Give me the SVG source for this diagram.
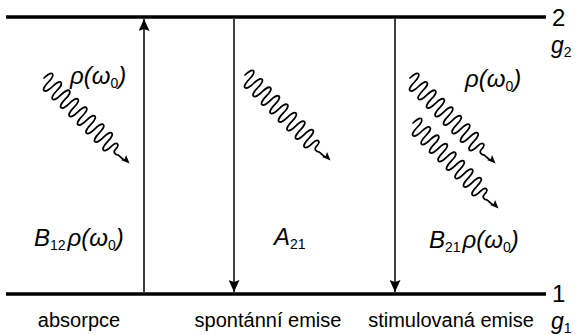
<svg xmlns="http://www.w3.org/2000/svg" width="579" height="335" viewBox="0 0 579 335">
<style>
text{font-family:"Liberation Sans",Arial,sans-serif;fill:#000}
.m{font-size:24px;font-style:italic}
.sub{font-size:14px;font-style:normal}
.lab{font-size:20px;text-anchor:middle}
.num{font-size:24px}
.g{font-size:23px}
.lvl{stroke:#000;stroke-width:3.6;fill:none}
.tr{stroke:#000;stroke-width:1.5;fill:none}
.wv{stroke:#000;stroke-width:1.7;fill:none;stroke-linecap:round}
</style>
<defs>
<marker id="ah" viewBox="0 0 12 11" refX="12" refY="5.5" markerWidth="12" markerHeight="11" markerUnits="userSpaceOnUse" orient="auto">
<path d="M0,0 L12,5.5 L0,11 L2,5.5 Z" fill="#000"/>
</marker>
<g id="wave">
<path class="wv" d="M0,0 c0,-12 6,-12 6,0 c0,12 6,12 6,0 c0,-12 6,-12 6,0 c0,12 6,12 6,0 c0,-12 6,-12 6,0 c0,12 6,12 6,0 c0,-12 6,-12 6,0 c0,12 6,12 6,0 c0,-12 6,-12 6,0 c0,12 6,12 6,0 c0,-12 6,-12 6,0 c0,12 6,12 6,0 c0,-12 6,-12 6,0 c0,12 6,12 6,0 c0,-12 6,-12 6,0 c0,12 6,12 6,0 c0,-7 5,-7 5,0 c0,4 4,4 6,2 L114,1.5"/>
<path d="M121,0 L112.5,-3.6 L114.3,0 L112.5,3.6 Z" fill="#000"/>
</g>
</defs>

<g id="levels">
<line class="lvl" x1="6" y1="17" x2="546" y2="17"/>
<line class="lvl" x1="6" y1="294" x2="546" y2="294"/>
</g>

<g id="connectors">
<line class="tr" x1="144" y1="292" x2="144" y2="19" marker-end="url(#ah)"/>
<line class="tr" x1="234" y1="19" x2="234" y2="292" marker-end="url(#ah)"/>
<line class="tr" x1="395" y1="19" x2="395" y2="292" marker-end="url(#ah)"/>
</g>

<g id="absorpce">
<use href="#wave" transform="translate(44,78) rotate(45)"/>
<text class="m" x="70" y="84">ρ(ω<tspan class="sub" dy="4">0</tspan><tspan dy="-4">)</tspan></text>
<text class="m" x="34" y="246">B<tspan class="sub" dy="4">12</tspan><tspan dy="-4" dx="2">ρ(ω</tspan><tspan class="sub" dy="4">0</tspan><tspan dy="-4">)</tspan></text>
<text class="lab" x="79" y="327">absorpce</text>
</g>

<g id="spontanni">
<use href="#wave" transform="translate(245,75) rotate(45)"/>
<text class="m" x="274" y="245">A<tspan class="sub" dy="4">21</tspan></text>
<text class="lab" x="268" y="327">spontánní emise</text>
</g>

<g id="stimulovana">
<use href="#wave" transform="translate(410,78) rotate(45)"/>
<use href="#wave" transform="translate(413,123) rotate(45)"/>
<text class="m" x="465" y="87">ρ(ω<tspan class="sub" dy="4">0</tspan><tspan dy="-4">)</tspan></text>
<text class="m" x="429" y="248">B<tspan class="sub" dy="4">21</tspan><tspan dy="-4" dx="2">ρ(ω</tspan><tspan class="sub" dy="4">0</tspan><tspan dy="-4">)</tspan></text>
<text class="lab" x="451" y="327">stimulovaná emise</text>
</g>

<g id="level-labels">
<text class="num" x="552" y="26">2</text>
<text class="m g" x="551" y="53">g<tspan class="sub" dy="4">2</tspan></text>
<text class="num" x="552" y="302">1</text>
<text class="m g" x="551" y="329">g<tspan class="sub" dy="4">1</tspan></text>
</g>
</svg>
